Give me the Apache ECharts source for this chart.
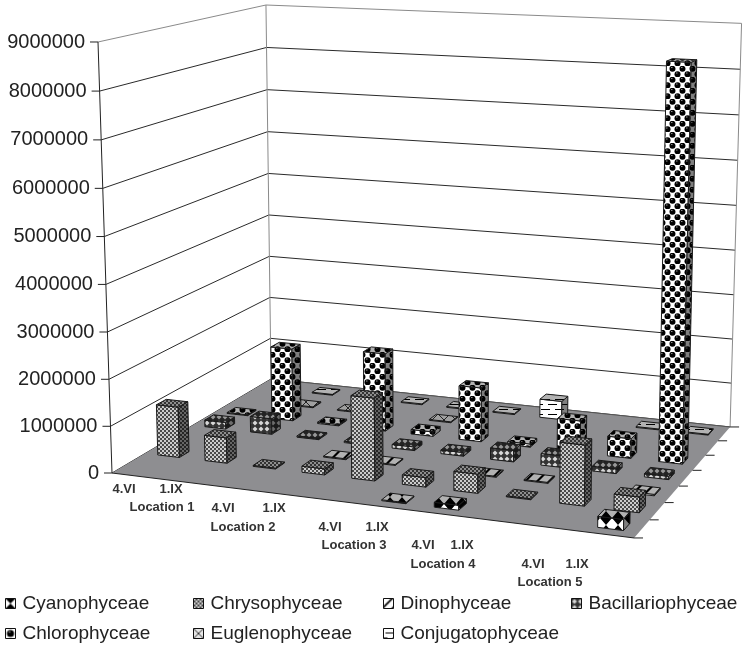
<!DOCTYPE html>
<html>
<head>
<meta charset="utf-8">
<title>Phytoplankton by location</title>
<style>
html, body { margin: 0; padding: 0; background: #fff; }
#chart { width: 744px; height: 645px; }
</style>
<script src="https://cdn.jsdelivr.net/npm/echarts@6/dist/echarts.min.js"></script>
</head>
<body>
<div id="chart"></div>
<script>
// data, one value per sampling (4.VI / 1.IX at five locations)
const samplings = ['L1 4.VI', 'L1 1.IX', 'L2 4.VI', 'L2 1.IX', 'L3 4.VI', 'L3 1.IX', 'L4 4.VI', 'L4 1.IX', 'L5 4.VI', 'L5 1.IX'];
const cyanophyceae = [0, 0, 0, 0, 0, 20000, 100000, 0, 0, 220000];
const chrysophyceae = [1100000, 550000, 20000, 130000, 1750000, 200000, 400000, 20000, 1250000, 320000];
const dinophyceae = [0, 0, 0, 20000, 20000, 0, 20000, 20000, 0, 30000];
const bacillariophyceae = [150000, 350000, 30000, 30000, 80000, 80000, 250000, 250000, 100000, 70000];
const chlorophyceae = [20000, 1650000, 30000, 1750000, 100000, 1200000, 70000, 700000, 430000, 8500000];
const euglenophyceae = [0, 20000, 20000, 0, 20000, 0, 0, 0, 0, 0];
const conjugatophyceae = [0, 20000, 0, 20000, 20000, 20000, 420000, 0, 20000, 20000];
const yTicks = [0, 1000000, 2000000, 3000000, 4000000, 5000000, 6000000, 7000000, 8000000, 9000000];

const dateLabels = ['4.VI', '1.IX', '4.VI', '1.IX', '4.VI', '1.IX', '4.VI', '1.IX', '4.VI', '1.IX'];
const locationLabels = ['Location 1', 'Location 2', 'Location 3', 'Location 4', 'Location 5'];

// label placement, the excel multi level axis is not regular
const dateLabelX = [124, 171, 223, 274, 330, 377, 423, 462, 533, 577];
const dateLabelY = [489, 489, 508, 508, 527, 527, 545, 545, 564, 564];
const locationLabelX = [162, 243, 354, 443, 550];
const locationLabelY = [507, 527, 545, 564, 582];

const W = 744, H = 645;
const rowCount = 7;

// perspective of the box: u along the front, v into the depth, w up
function proj(u, v, w) {
    const d = 1 - 0.086 * u + 0.1552 * v - 0.0276 * w;
    const p = -16.7 + 5 * u + 3.5 * v;
    return [
        (467.5 * u + 201.1 * v + 112 + p * w) / d,
        (18.7 * u - 35.2 * v + 473 - 432.16 * w) / d
    ];
}

const tileSizes = { cyano: [12, 14], chryso: [4, 4], dino: [12, 12], bacil: [6, 6], chloro: [10, 11], eugleno: [12, 12], conj: [14, 10] };

function drawBall(x, bx, by, r) {
    x.fillStyle = '#000';
    x.beginPath();
    x.arc(bx, by, r, 0, Math.PI * 2);
    x.fill();
    x.fillStyle = '#8a8a8a';
    x.fillRect(bx - r * 0.5, by - r * 0.6, r * 0.5, r * 0.35);
}

function paintTile(x, kind, w, h) {
    x.fillStyle = '#fff';
    x.fillRect(0, 0, w, h);
    x.fillStyle = '#000';
    if (kind === 'cyano') {
        x.beginPath();
        x.moveTo(0, 0); x.lineTo(w, 0); x.lineTo(w / 2, h / 2); x.lineTo(w, h); x.lineTo(0, h); x.lineTo(w / 2, h / 2);
        x.closePath();
        x.fill();
    } else if (kind === 'chryso') {
        x.fillStyle = '#4a4a4a';
        x.fillRect(0, 0, w, h);
        x.fillStyle = '#cccccc';
        x.fillRect(0, 0, w / 2, h / 2);
        x.fillRect(w / 2, h / 2, w / 2, h / 2);
    } else if (kind === 'dino') {
        x.beginPath();
        x.moveTo(0, h * 0.75); x.lineTo(h * 0.75, 0); x.lineTo(w, 0); x.lineTo(0, w);
        x.closePath();
        x.fill();
        x.beginPath();
        x.moveTo(w, h * 0.75); x.lineTo(h * 0.75, h); x.lineTo(w, h);
        x.closePath();
        x.fill();
    } else if (kind === 'bacil') {
        x.fillStyle = '#333';
        x.fillRect(0, 0, w, h);
        x.fillStyle = '#d8d8d8';
        x.beginPath();
        x.moveTo(w / 2, 0.5); x.lineTo(w - 0.5, h / 2); x.lineTo(w / 2, h - 0.5); x.lineTo(0.5, h / 2);
        x.closePath();
        x.fill();
    } else if (kind === 'chloro') {
        if (w < 10 || h < 11) {
            drawBall(x, w / 2, h / 2, w * 0.36);
            return;
        }
        drawBall(x, 2.5, 2.8, 3);
        drawBall(x, 7.5, 8.3, 3);
        drawBall(x, -2.5, 8.3, 3);
        drawBall(x, 12.5, 2.8, 3);
    } else if (kind === 'eugleno') {
        x.fillStyle = '#e6e6e6';
        x.fillRect(0, 0, w, h);
        x.lineWidth = 1;
        x.strokeStyle = '#333';
        x.beginPath();
        x.moveTo(0, 0); x.lineTo(w, h); x.moveTo(w, 0); x.lineTo(0, h);
        x.stroke();
    } else if (kind === 'conj') {
        x.fillRect(2, 4, 9, 1);
        x.fillRect(9, 9, 5, 1);
        x.fillRect(0, 9, 4, 1);
    }
}

function tile(kind, shade, size) {
    const c = document.createElement('canvas');
    c.width = size ? size[0] : tileSizes[kind][0];
    c.height = size ? size[1] : tileSizes[kind][1];
    const x = c.getContext('2d');
    paintTile(x, kind, c.width, c.height);
    if (shade) {
        x.fillStyle = 'rgba(0,0,0,' + shade + ')';
        x.fillRect(0, 0, c.width, c.height);
    }
    return { image: c, repeat: 'repeat' };
}

const kinds = ['cyano', 'chryso', 'dino', 'bacil', 'chloro', 'eugleno', 'conj'];
const faces = {};
kinds.forEach(function (k) {
    faces[k] = { front: tile(k, 0), top: tile(k, 0.3), side: tile(k, 0.5), icon: tile(k, 0, k === 'chryso' || k === 'bacil' ? null : [10, 10]) };
});

function face(points, fill) {
    return {
        type: 'polygon',
        shape: { points: points },
        style: { fill: fill, stroke: '#1a1a1a', lineWidth: 1 }
    };
}

function renderBar(params, api) {
    const value = api.value(1);
    if (!value) {
        return null;
    }
    const row = api.value(2);
    const pos = api.coord([api.value(0), value]);
    const base = api.coord([api.value(0), 0]);
    const u = pos[0] / W;
    const w = (base[1] - pos[1]) / H;
    const du = api.size([1, 0])[0] / W * 0.23;
    const v = (row + 0.5) / rowCount;
    const dv = 0.2 / rowCount;
    const f = faces[kinds[row]];
    const a = proj(u - du, v - dv, 0), b = proj(u + du, v - dv, 0), c = proj(u + du, v + dv, 0);
    const a1 = proj(u - du, v - dv, w), b1 = proj(u + du, v - dv, w), c1 = proj(u + du, v + dv, w), d1 = proj(u - du, v + dv, w);
    return {
        type: 'group',
        children: [
            face([a, b, b1, a1], f.front),
            face([b, c, c1, b1], f.side),
            face([a1, b1, c1, d1], f.top)
        ]
    };
}

function line(p, q, color) {
    return { type: 'line', shape: { x1: p[0], y1: p[1], x2: q[0], y2: q[1] }, style: { stroke: color, lineWidth: 1 } };
}

// grid lines on the two walls, ticks and value labels
function renderWall(params, api) {
    const val = api.value(1);
    const w = 1 - api.coord([0, val])[1] / H;
    const a = proj(0, 0, w), d = proj(0, 1, w), c = proj(1, 1, w);
    const top = val === yTicks[yTicks.length - 1];
    const col = top ? '#8a8a8a' : '#2a2a2a';
    return {
        type: 'group',
        children: [
            line(a, d, col),
            line(d, c, col),
            line([a[0] - 8, a[1]], a, '#222'),
            {
                type: 'text',
                x: a[0] - 13,
                y: a[1],
                style: { text: String(val), fontFamily: 'Liberation Sans', fontSize: 20, fill: '#222', align: 'right', verticalAlign: 'middle' }
            }
        ]
    };
}

function renderFloor(params, api) {
    const a = proj(0, 0, 0), b = proj(1, 0, 0), c = proj(1, 1, 0), d = proj(0, 1, 0);
    const children = [
        line(proj(0, 0, 1), a, '#222'),
        line(proj(0, 1, 1), d, '#8a8a8a'),
        line(proj(1, 1, 1), c, '#8a8a8a'),
        { type: 'polygon', shape: { points: [a, b, c, d] }, style: { fill: '#8e8e91' } },
        line(a, b, '#222'),
        line(d, c, '#555')
    ];
    for (let r = 0; r <= rowCount; r++) {
        const p = proj(1, r / rowCount, 0);
        children.push(line(p, [p[0] + 9, p[1]], '#222'));
    }
    return { type: 'group', children: children };
}

function barSeries(name, values, row) {
    return {
        name: name,
        type: 'custom',
        renderItem: renderBar,
        z: 10 + rowCount - row,
        clip: false,
        itemStyle: { color: faces[kinds[row]].top },
        encode: { x: 0, y: 1 },
        data: values.map(function (v, i) { return [i, v, row]; })
    };
}

const legendPlaces = [
    ['Cyanophyceae', 5, 594, 0], ['Chrysophyceae', 193, 594, 1], ['Dinophyceae', 383, 594, 2], ['Bacillariophyceae', 571, 594, 3],
    ['Chlorophyceae', 5, 624, 4], ['Euglenophyceae', 193, 624, 5], ['Conjugatophyceae', 383, 624, 6]
];

const xTexts = [];
dateLabels.forEach(function (t, i) {
    xTexts.push({ type: 'text', x: dateLabelX[i], y: dateLabelY[i], style: { text: t, fontFamily: 'Liberation Sans', fontWeight: 'bold', fontSize: 13, fill: '#333', align: 'center', verticalAlign: 'middle' } });
});
locationLabels.forEach(function (t, i) {
    xTexts.push({ type: 'text', x: locationLabelX[i], y: locationLabelY[i], style: { text: t, fontFamily: 'Liberation Sans', fontWeight: 'bold', fontSize: 13, fill: '#333', align: 'center', verticalAlign: 'middle' } });
});

const myChart = echarts.init(document.getElementById('chart'), null, { renderer: 'canvas' });
myChart.setOption({
    animation: false,
    backgroundColor: '#fff',
    grid: { left: 0, right: 0, top: 0, bottom: 0 },
    xAxis: { type: 'category', data: samplings, show: false },
    yAxis: { type: 'value', min: 0, max: 9000000, interval: 1000000, show: false },
    legend: legendPlaces.map(function (l) {
        return {
            data: [{ name: l[0], icon: 'rect', itemStyle: { color: faces[kinds[l[3]]].icon, borderColor: '#111', borderWidth: 1 } }],
            left: l[1],
            top: l[2],
            padding: 0,
            itemWidth: 10,
            itemHeight: 10,
            itemGap: 0,
            selectedMode: false,
            textStyle: { fontFamily: 'Liberation Sans', fontSize: 19, color: '#222', padding: [0, 0, 0, 2] }
        };
    }),
    graphic: xTexts,
    series: [
        {
            type: 'custom',
            renderItem: renderWall,
            z: 2,
            silent: true,
            clip: false,
            encode: { x: 0, y: 1 },
            data: yTicks.map(function (t) { return [0, t]; })
        },
        {
            type: 'custom',
            renderItem: renderFloor,
            z: 3,
            silent: true,
            clip: false,
            encode: { x: 0, y: 1 },
            data: [[0, 0]]
        },
        barSeries('Conjugatophyceae', conjugatophyceae, 6),
        barSeries('Euglenophyceae', euglenophyceae, 5),
        barSeries('Chlorophyceae', chlorophyceae, 4),
        barSeries('Bacillariophyceae', bacillariophyceae, 3),
        barSeries('Dinophyceae', dinophyceae, 2),
        barSeries('Chrysophyceae', chrysophyceae, 1),
        barSeries('Cyanophyceae', cyanophyceae, 0)
    ]
});
</script>
</body>
</html>
